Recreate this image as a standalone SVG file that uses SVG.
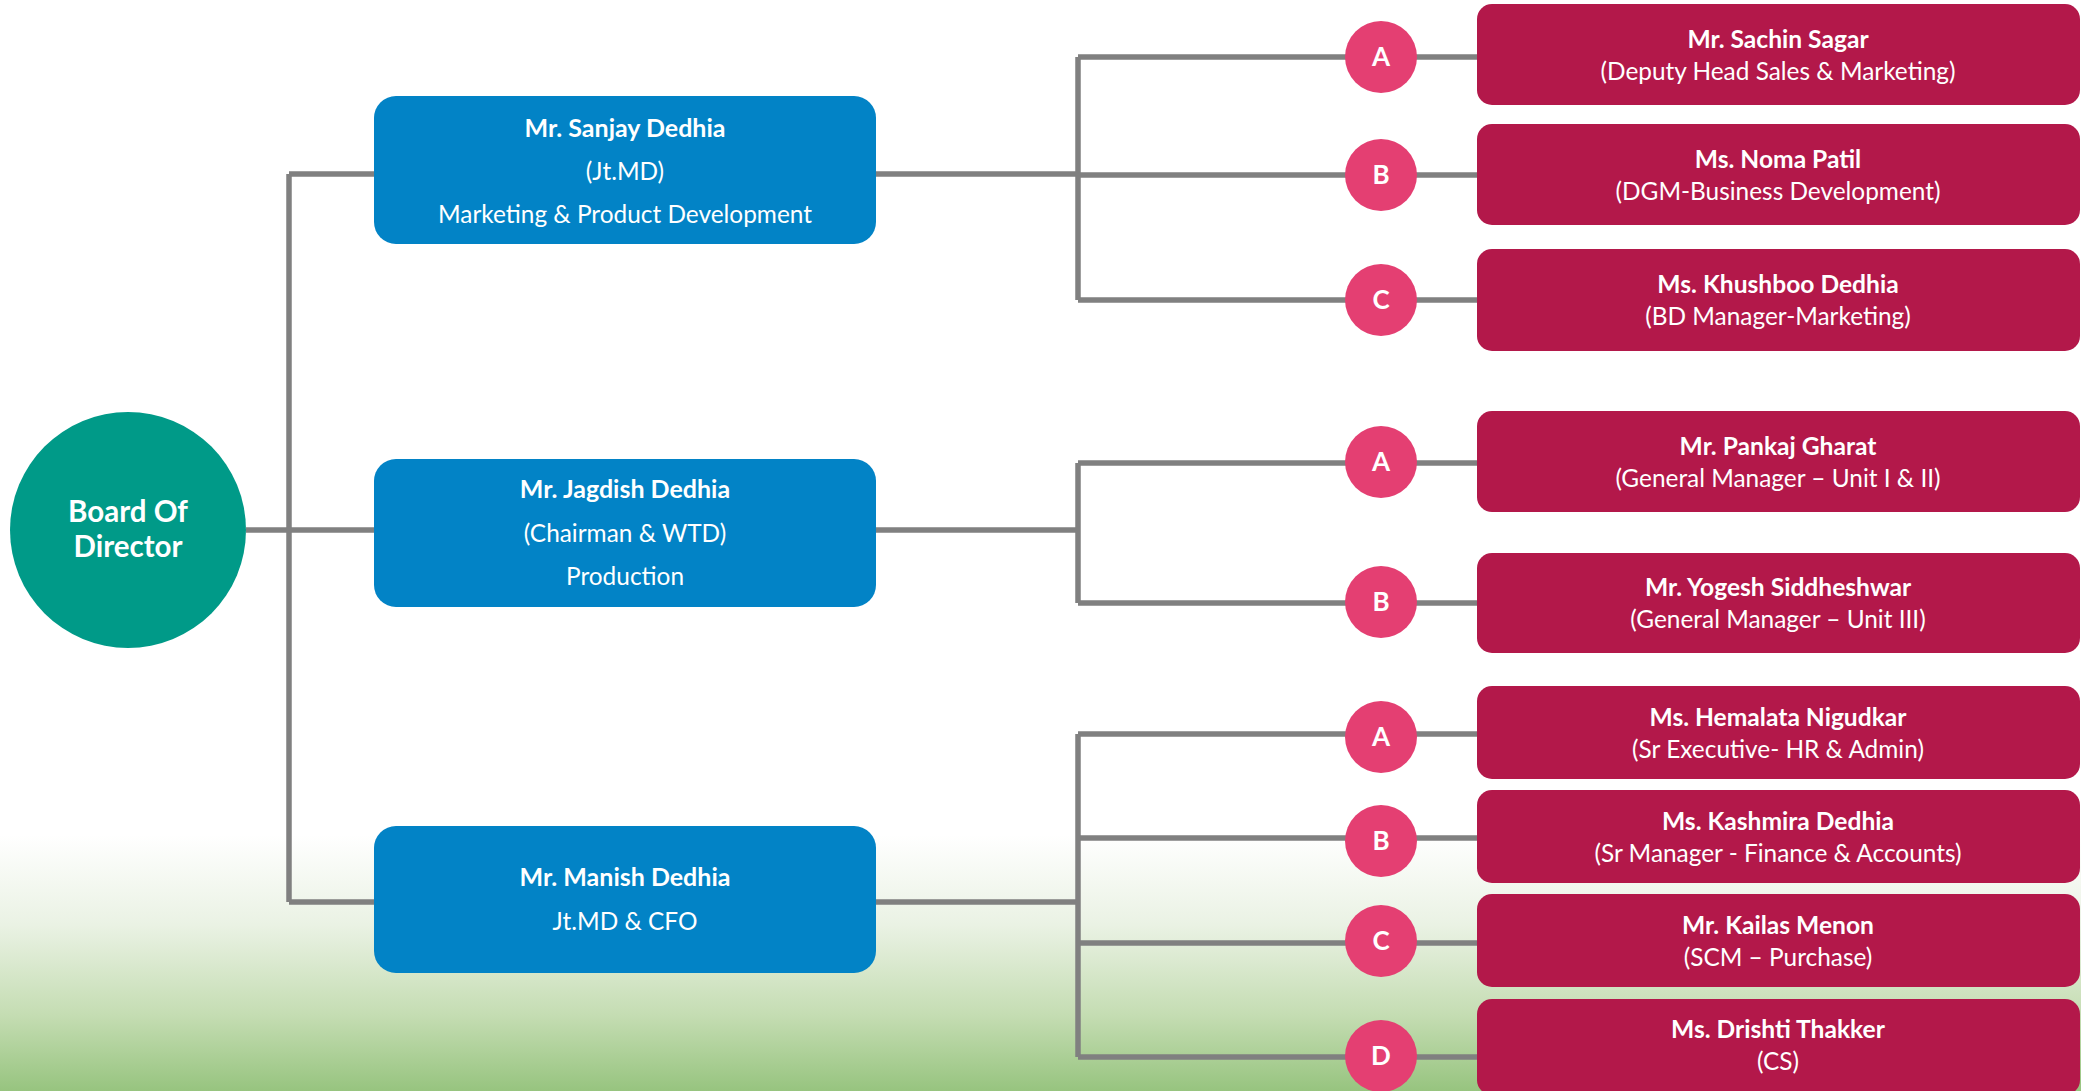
<svg xmlns="http://www.w3.org/2000/svg" width="2081" height="1091" viewBox="0 0 2081 1091">
<defs>
<linearGradient id="bg" x1="0" y1="0" x2="0" y2="1">
<stop offset="0" stop-color="#ffffff"/>
<stop offset="0.35" stop-color="#eaf2e4"/>
<stop offset="0.7" stop-color="#c5ddb3"/>
<stop offset="1" stop-color="#97c47f"/>
</linearGradient>
<style>
.ln{stroke:#808080;stroke-width:5.5;fill:none;stroke-linejoin:miter}
.blue{fill:#0283c6}
.pink{fill:#b3184a}
.dot{fill:#e43f72}
.teal{fill:#009a88}
text{font-family:Lato,"Liberation Sans",sans-serif;fill:#ffffff;text-anchor:middle}
.b{font-weight:bold}
.t25{font-size:25px}
.tn{font-size:24.6px}
.ts{font-size:24.4px}
.t26{font-size:26px}
.t29{font-size:29.5px}
</style>
</defs>
<rect x="0" y="0" width="2081" height="1091" fill="#ffffff"/>
<rect x="0" y="835" width="2081" height="256" fill="url(#bg)"/>
<g id="connectors">
<path class="ln" d="M246 530H374M289 174V902M289 174H374M289 902H374"/>
<path class="ln" d="M876 174H1078M1078 57V300M1078 57H1477M1078 175H1477M1078 300H1477"/>
<path class="ln" d="M876 530H1078M1078 463V603M1078 463H1477M1078 603H1477"/>
<path class="ln" d="M876 902H1078M1078 734V1057M1078 734H1477M1078 838H1477M1078 943H1477M1078 1057H1477"/>
</g>
<g id="board">
<circle class="teal" cx="128" cy="530" r="118"/>
<text class="b t29" x="128" y="522">Board Of</text>
<text class="b t29" x="128" y="557">Director</text>
</g>
<g id="sanjay">
<rect class="blue" x="374" y="96" width="502" height="148" rx="22"/>
<text class="b t25" x="625" y="137">Mr. Sanjay Dedhia</text>
<text class="ts" x="625" y="180">(Jt.MD)</text>
<text class="ts" x="625" y="223">Marketing &amp; Product Development</text>
</g>
<g id="jagdish">
<rect class="blue" x="374" y="459" width="502" height="148" rx="22"/>
<text class="b t25" x="625" y="498">Mr. Jagdish Dedhia</text>
<text class="ts" x="625" y="542">(Chairman &amp; WTD)</text>
<text class="ts" x="625" y="585">Production</text>
</g>
<g id="manish">
<rect class="blue" x="374" y="826" width="502" height="147" rx="22"/>
<text class="b t25" x="625" y="886">Mr. Manish Dedhia</text>
<text class="ts" x="625" y="930">Jt.MD &amp; CFO</text>
</g>
<g id="s1-a">
<circle class="dot" cx="1381" cy="57" r="36"/>
<text class="b t26" x="1381" y="66">A</text>
<rect class="pink" x="1477" y="4" width="603" height="101" rx="15"/>
<text class="b tn" x="1778" y="48">Mr. Sachin Sagar</text>
<text class="ts" x="1778" y="80">(Deputy Head Sales &amp; Marketing)</text>
</g>
<g id="s1-b">
<circle class="dot" cx="1381" cy="175" r="36"/>
<text class="b t26" x="1381" y="184">B</text>
<rect class="pink" x="1477" y="124" width="603" height="101" rx="15"/>
<text class="b tn" x="1778" y="168">Ms. Noma Patil</text>
<text class="ts" x="1778" y="200">(DGM-Business Development)</text>
</g>
<g id="s1-c">
<circle class="dot" cx="1381" cy="300" r="36"/>
<text class="b t26" x="1381" y="309">C</text>
<rect class="pink" x="1477" y="249" width="603" height="102" rx="15"/>
<text class="b tn" x="1778" y="293">Ms. Khushboo Dedhia</text>
<text class="ts" x="1778" y="325">(BD Manager-Marketing)</text>
</g>
<g id="s2-a">
<circle class="dot" cx="1381" cy="462" r="36"/>
<text class="b t26" x="1381" y="471">A</text>
<rect class="pink" x="1477" y="411" width="603" height="101" rx="15"/>
<text class="b tn" x="1778" y="455">Mr. Pankaj Gharat</text>
<text class="ts" x="1778" y="487">(General Manager – Unit I &amp; II)</text>
</g>
<g id="s2-b">
<circle class="dot" cx="1381" cy="602" r="36"/>
<text class="b t26" x="1381" y="611">B</text>
<rect class="pink" x="1477" y="553" width="603" height="100" rx="15"/>
<text class="b tn" x="1778" y="596">Mr. Yogesh Siddheshwar</text>
<text class="ts" x="1778" y="628">(General Manager – Unit III)</text>
</g>
<g id="s3-a">
<circle class="dot" cx="1381" cy="737" r="36"/>
<text class="b t26" x="1381" y="746">A</text>
<rect class="pink" x="1477" y="686" width="603" height="93" rx="15"/>
<text class="b tn" x="1778" y="726">Ms. Hemalata Nigudkar</text>
<text class="ts" x="1778" y="758">(Sr Executive- HR &amp; Admin)</text>
</g>
<g id="s3-b">
<circle class="dot" cx="1381" cy="841" r="36"/>
<text class="b t26" x="1381" y="850">B</text>
<rect class="pink" x="1477" y="790" width="603" height="93" rx="15"/>
<text class="b tn" x="1778" y="830">Ms. Kashmira Dedhia</text>
<text class="ts" x="1778" y="862">(Sr Manager - Finance &amp; Accounts)</text>
</g>
<g id="s3-c">
<circle class="dot" cx="1381" cy="941" r="36"/>
<text class="b t26" x="1381" y="950">C</text>
<rect class="pink" x="1477" y="894" width="603" height="93" rx="15"/>
<text class="b tn" x="1778" y="934">Mr. Kailas Menon</text>
<text class="ts" x="1778" y="966">(SCM – Purchase)</text>
</g>
<g id="s3-d">
<circle class="dot" cx="1381" cy="1056" r="36"/>
<text class="b t26" x="1381" y="1065">D</text>
<rect class="pink" x="1477" y="999" width="603" height="96" rx="15"/>
<text class="b tn" x="1778" y="1038">Ms. Drishti Thakker</text>
<text class="ts" x="1778" y="1070">(CS)</text>
</g>
</svg>
